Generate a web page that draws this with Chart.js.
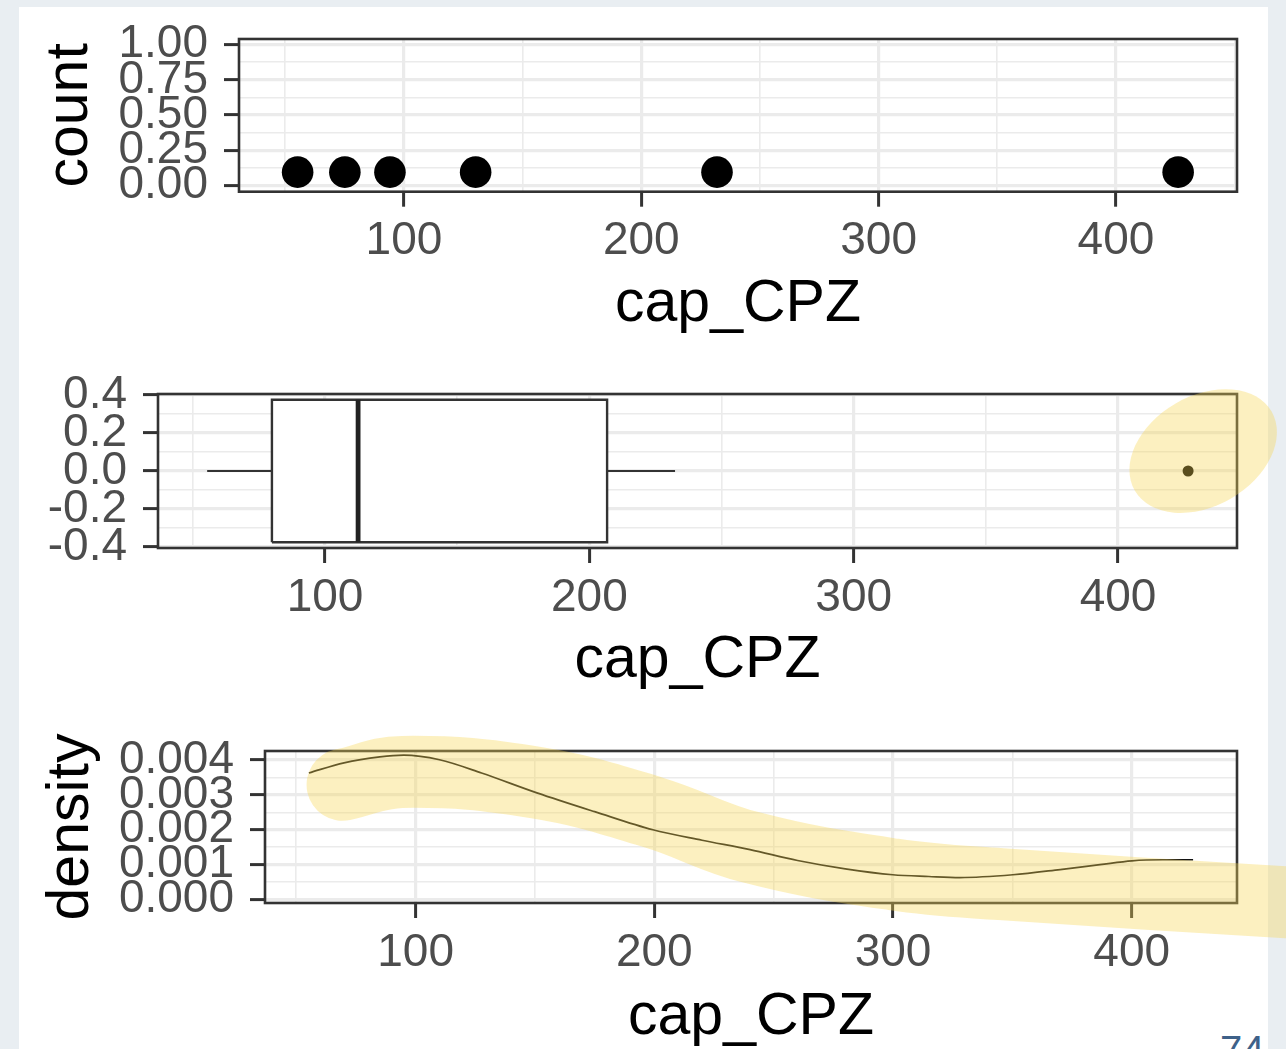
<!DOCTYPE html>
<html>
<head>
<meta charset="utf-8">
<script src="https://cdn.jsdelivr.net/npm/chart.js@4.4.0/dist/chart.umd.min.js"></script>
<style>
  html, body { margin: 0; padding: 0; width: 1286px; height: 1049px; overflow: hidden; background: #e9eef2; }
  #slide { position: absolute; left: 19px; top: 7px; width: 1249px; height: 1042px; background: #fff; }
  canvas { position: absolute; left: 0; }
  #pageno { position: absolute; left: 1220px; top: 1030px; font: 40px/40px "Liberation Sans", sans-serif; color: #3e6189; }
</style>
</head>
<body>
<div id="slide"></div>
<div id="pageno">74</div>
<canvas id="dotplot" width="1286" height="340" style="top:0px"></canvas>
<canvas id="boxplot" width="1286" height="370" style="top:340px"></canvas>
<canvas id="density" width="1286" height="339" style="top:710px"></canvas>
<script>
// values
const capCPZ = [55.2, 75.1, 94.1, 130.2, 231.9, 426.2];
const dotHeight = [0.094, 0.094, 0.094, 0.094, 0.094, 0.094];

// lower whisker, Q1, median, Q3, upper whisker
const boxStats = [55.4, 79.9, 112.5, 206.7, 232.4];
const boxHalf = 0.375;
const outliers = [426.5];

const densityX = [55.3, 70, 85, 95, 110, 127.6, 150.8, 175, 199.4, 220, 240.1, 260, 280, 299.9, 315, 328, 350.2, 370, 386.7, 400.1, 413, 425.7];
const densityY = [0.00363, 0.00392, 0.00409, 0.00414, 0.00401, 0.00363, 0.00306, 0.00252, 0.00200, 0.00170, 0.00143, 0.00112, 0.00088, 0.00071, 0.00066, 0.00063, 0.00071, 0.00086, 0.00100, 0.00111, 0.00114, 0.00114];

// axis breaks
const xMajor = [100, 200, 300, 400];
const xLabels = ['100', '200', '300', '400'];
const xMinor = [50, 150, 250, 350, 450];
const countMajor = [0, 0.25, 0.5, 0.75, 1];
const countLabels = ['0.00', '0.25', '0.50', '0.75', '1.00'];
const countMinor = [0.125, 0.375, 0.625, 0.875];
const boxYMajor = [-0.4, -0.2, 0, 0.2, 0.4];
const boxYLabels = ['-0.4', '-0.2', '0.0', '0.2', '0.4'];
const boxYMinor = [-0.3, -0.1, 0.1, 0.3];
const densMajor = [0, 0.001, 0.002, 0.003, 0.004];
const densLabels = ['0.000', '0.001', '0.002', '0.003', '0.004'];
const densMinor = [0.0005, 0.0015, 0.0025, 0.0035];

// yellow pen highlights (in data units)
const bandX = [69.4, 94.5, 150.8, 199.5, 240.2, 300.2, 345.1, 465.1];
const bandY = [0.00329, 0.00366, 0.00335, 0.00250, 0.00150, 0.00072, 0.00044, -0.00008];
const ringCenter = [432.2, 0.105];

const FONT = 'Liberation Sans';
const HL = 'rgba(246, 214, 82, 0.365)';

function pts(xs, ys) { return xs.map((x, i) => ({ x: x, y: ys[i] })); }

function axis(major, labels, minor, min, max, fit, title, titlePad) {
  const near = (a, b) => Math.abs(a - b) < 1e-9;
  const isMajor = v => major.some(m => near(m, v));
  const all = major.concat(minor).filter(v => v >= min && v <= max).sort((a, b) => a - b);
  return {
    type: 'linear', min: min, max: max, bounds: 'data',
    afterBuildTicks: ax => { ax.ticks = all.map(v => ({ value: v })); },
    afterFit: fit,
    ticks: {
      autoSkip: false, maxRotation: 0, padding: title.horiz ? 12 : 16, color: '#4d4d4d',
      font: { family: FONT, size: 46, lineHeight: 1 },
      callback: v => { const i = major.findIndex(m => near(m, v)); return i < 0 ? '' : labels[i]; }
    },
    grid: {
      color: '#ebebeb',
      lineWidth: c => isMajor(c.tick.value) ? 3.2 : 1.6,
      tickColor: c => isMajor(c.tick.value) ? '#333333' : 'rgba(0,0,0,0)',
      tickWidth: 3, tickLength: 15
    },
    border: { display: false },
    title: {
      display: !!title.text, text: title.text, color: '#000',
      font: { family: FONT, size: 59, lineHeight: 1 },
      padding: titlePad
    }
  };
}

const panelBorder = {
  id: 'panelBorder',
  beforeDatasetsDraw(chart) {
    const a = chart.chartArea, ctx = chart.ctx;
    ctx.save();
    ctx.strokeStyle = '#333333';
    ctx.lineWidth = 2.6;
    ctx.strokeRect(a.left, a.top, a.right - a.left, a.bottom - a.top);
    ctx.restore();
  }
};

const ring = {
  id: 'ring',
  afterDatasetsDraw(chart) {
    const ctx = chart.ctx;
    const cx = chart.scales.x.getPixelForValue(ringCenter[0]);
    const cy = chart.scales.y.getPixelForValue(ringCenter[1]);
    ctx.save();
    ctx.fillStyle = HL;
    ctx.beginPath();
    ctx.ellipse(cx, cy, 79, 55, -Math.PI / 6, 0, Math.PI * 2);
    ctx.fill();
    ctx.restore();
  }
};

function base(pad, scales) {
  return {
    responsive: false, animation: false, devicePixelRatio: 1,
    layout: { padding: pad },
    plugins: { legend: { display: false }, tooltip: { enabled: false } },
    scales: scales
  };
}

// panel 1: dot plot
new Chart(document.getElementById('dotplot'), {
  type: 'scatter',
  data: { datasets: [{
    data: pts(capCPZ, dotHeight),
    pointRadius: 15.8, pointBackgroundColor: '#000', pointBorderWidth: 0
  }] },
  options: base({ top: 37.7, right: 49, left: 0, bottom: 0 }, {
    x: axis(xMajor, xLabels, xMinor, 30.5, 451, ax => { ax.height = 148.3; }, { text: 'cap_CPZ', horiz: true }, { top: 0, bottom: 5.5 }),
    y: axis(countMajor, countLabels, countMinor, -0.045, 1.04, ax => { ax.width = 239; }, { text: 'count' }, { top: 41, bottom: 0 })
  }),
  plugins: [panelBorder]
});

// panel 2: box plot
const q = boxStats;
new Chart(document.getElementById('boxplot'), {
  type: 'scatter',
  data: { datasets: [
    { data: pts(outliers, [0]), pointRadius: 5.5, pointBackgroundColor: '#000', pointBorderWidth: 0 },
    { data: pts([q[2], q[2]], [-boxHalf, boxHalf]), showLine: true, pointRadius: 0, borderColor: '#222', borderWidth: 4.8, borderCapStyle: 'butt' },
    { data: pts([q[1], q[3], q[3], q[1], q[1]], [-boxHalf, -boxHalf, boxHalf, boxHalf, -boxHalf]), showLine: true, pointRadius: 0, borderColor: '#333', borderWidth: 2.4, borderJoinStyle: 'miter' },
    { data: pts([q[1], q[3]], [boxHalf, boxHalf]), showLine: true, pointRadius: 0, borderWidth: 0, backgroundColor: '#fff', fill: { value: -boxHalf } },
    { data: pts([q[0], q[1]], [0, 0]), showLine: true, pointRadius: 0, borderColor: '#333', borderWidth: 1.8 },
    { data: pts([q[3], q[4]], [0, 0]), showLine: true, pointRadius: 0, borderColor: '#333', borderWidth: 1.8 }
  ] },
  options: base({ top: 54, right: 49, left: 0, bottom: 0 }, {
    x: axis(xMajor, xLabels, xMinor, 36.8, 445, ax => { ax.height = 162; }, { text: 'cap_CPZ', horiz: true }, { top: 0, bottom: 19.5 }),
    y: axis(boxYMajor, boxYLabels, boxYMinor, -0.405, 0.405, ax => { ax.width = 158; }, { text: '' }, { top: 0, bottom: 0 })
  }),
  plugins: [panelBorder, ring]
});

// panel 3: density
new Chart(document.getElementById('density'), {
  type: 'scatter',
  data: { datasets: [
    { data: pts(bandX, bandY), showLine: true, pointRadius: 0, borderColor: HL, borderWidth: 72,
      borderCapStyle: 'round', borderJoinStyle: 'round', tension: 0.4, capBezierPoints: false, clip: false, order: 0 },
    { data: pts(densityX, densityY), showLine: true, pointRadius: 0, borderColor: '#111', borderWidth: 1.7,
      cubicInterpolationMode: 'monotone', order: 1 }
  ] },
  options: base({ top: 41, right: 49, left: 0, bottom: 0 }, {
    x: axis(xMajor, xLabels, xMinor, 36.9, 444.1, ax => { ax.height = 146; }, { text: 'cap_CPZ', horiz: true }, { top: 0, bottom: 1.5 }),
    y: axis(densMajor, densLabels, densMinor, -0.0001, 0.00426, ax => { ax.width = 265; }, { text: 'density' }, { top: 42, bottom: 0 })
  }),
  plugins: [panelBorder]
});
</script>
</body>
</html>
